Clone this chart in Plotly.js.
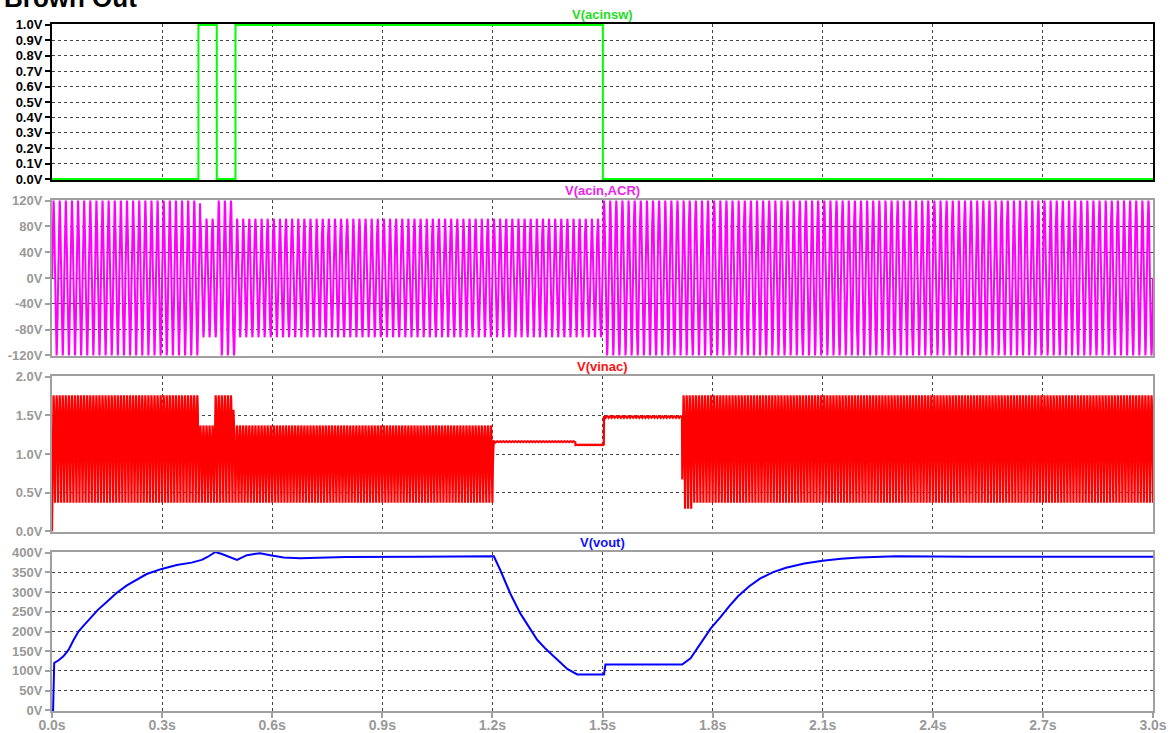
<!DOCTYPE html>
<html><head><meta charset="utf-8">
<script src="https://cdn.plot.ly/plotly-3.0.1.min.js"></script>
<style>html,body{margin:0;padding:0;background:#fff;overflow:hidden}#chart{width:1175px;height:733px}</style>
</head><body><div id="chart"></div>
<script>
// ---- axis ticks ----
const timeTickVals = [0, 0.3, 0.6, 0.9, 1.2, 1.5, 1.8, 2.1, 2.4, 2.7, 3.0];
const timeTickText = ["0.0s","0.3s","0.6s","0.9s","1.2s","1.5s","1.8s","2.1s","2.4s","2.7s","3.0s"];
const acinswTickVals = [0,0.1,0.2,0.3,0.4,0.5,0.6,0.7,0.8,0.9,1.0];
const acinswTickText = ["0.0V","0.1V","0.2V","0.3V","0.4V","0.5V","0.6V","0.7V","0.8V","0.9V","1.0V"];
const acinTickVals = [-120,-80,-40,0,40,80,120];
const acinTickText = ["-120V","-80V","-40V","0V","40V","80V","120V"];
const vinacTickVals = [0,0.5,1.0,1.5,2.0];
const vinacTickText = ["0.0V","0.5V","1.0V","1.5V","2.0V"];
const voutTickVals = [0,50,100,150,200,250,300,350,400];
const voutTickText = ["0V","50V","100V","150V","200V","250V","300V","350V","400V"];

// ---- V(acinsw): switch control ----
const acinswT = [0, 0.399, 0.399, 0.449, 0.449, 0.500, 0.500, 1.501, 1.501, 3.0];
const acinswV = [0, 0, 1, 1, 0, 0, 1, 1, 0, 0];

// ---- V(acin,ACR): 60 Hz line voltage, amplitude per segment ----
const lineFreq = 60;
const acinSegStart = [0, 0.404, 0.454, 0.499, 1.503];
const acinSegAmp   = [120, 92, 120, 92, 120];

// ---- V(vinac): rectified sense voltage, low/high per segment ----
const vinacSegStart = [0.003, 0.402, 0.445, 0.495, 1.202, 1.426, 1.504, 1.717, 1.745];
const vinacSegLow   = [0.37, 0.37, 0.37, 0.37, 1.150, 1.108, 1.470, 0.29, 0.37];
const vinacSegHigh  = [1.76, 1.37, 1.76, 1.37, 1.166, 1.122, 1.490, 1.76, 1.76];

// ---- V(vout): output bus voltage ----
const voutT = [0, 0.003, 0.006, 0.018, 0.031, 0.045, 0.058, 0.072, 0.088, 0.104, 0.125, 0.149, 0.175, 0.204,
  0.230, 0.258, 0.299, 0.340, 0.380, 0.408, 0.425,
  0.445, 0.463, 0.485, 0.504, 0.531, 0.567, 0.595, 0.631, 0.676, 0.8, 1.0, 1.204, 1.222, 1.249, 1.276, 1.300, 1.322,
  1.345, 1.367, 1.387, 1.404, 1.431, 1.504, 1.508, 1.717, 1.740, 1.767, 1.795, 1.822, 1.845, 1.870, 1.900, 1.930,
  1.965, 2.000, 2.050, 2.100, 2.150, 2.200, 2.300, 2.5, 2.8, 3.0];
const voutV = [0, 0, 120, 127, 137, 153, 177, 200, 217, 233, 255, 275, 297, 317,
  332, 346, 359, 369, 375, 382, 390,
  402, 397, 388, 382, 394, 399, 394, 388, 386, 389, 390, 391, 355, 296, 246, 210, 179,
  156, 137, 119, 105, 91, 91, 116, 116, 132, 170, 208, 237, 264, 290, 315, 335,
  351, 362, 373, 380, 385, 388, 391, 390, 390, 390];

// ---- build dense waveforms from the segment values ----
const dt = 1 / (lineFreq * 24);
function segIndex(starts, t) {
  let k = -1;
  for (let i = 0; i < starts.length; i++) if (t >= starts[i]) k = i;
  return k;
}
const acinT = [], acinV = [], vinacT = [0], vinacV = [0];
for (let t = 0; t <= 3.0 + 1e-9; t += dt) {
  const ph = 2 * Math.PI * lineFreq * t;
  const a = segIndex(acinSegStart, t);
  acinT.push(t); acinV.push(acinSegAmp[a] * Math.sin(ph));
  const b = segIndex(vinacSegStart, t);
  if (b >= 0) {
    vinacT.push(t);
    vinacV.push(vinacSegLow[b] + (vinacSegHigh[b] - vinacSegLow[b]) * Math.abs(Math.sin(ph)));
  }
}

const H = 687;
const dom4 = [0, 159 / H], dom3 = [179 / H, 335 / H], dom2 = [355 / H, 511 / H], dom1 = [531 / H, 1];

const gray = '#a0a0a0';
const FAM = 'Arial, Liberation Sans, sans-serif';
const tickFontGray = {family: FAM, size: 13, color: '#999999', weight: 'bold'};
const tickFontBlack = {family: FAM, size: 13, color: '#000000', weight: 'bold'};
const gridStyle = {showgrid: true, gridcolor: '#444444', griddash: '3px,3px', gridwidth: 1};

function xax(anchor, showLabels, lineColor) {
  const ax = Object.assign({
    range: [0, 3], tickvals: timeTickVals, ticktext: timeTickText, anchor: anchor,
    showticklabels: showLabels, ticks: showLabels ? 'outside' : '', ticklen: 5, tickcolor: gray, tickwidth: 2,
    tickfont: Object.assign({}, tickFontGray, {size: 14}), ticklabelstandoff: -5,
    showline: true, linecolor: lineColor, linewidth: 2, mirror: true, zeroline: false,
    layer: 'below traces', fixedrange: true
  }, gridStyle);
  if (anchor !== 'y4') ax.matches = 'x4';
  return ax;
}
function yax(domain, range, vals, text, font, lineColor) {
  return Object.assign({
    domain: domain, range: range, tickvals: vals, ticktext: text, tickfont: font,
    ticks: 'outside', ticklen: 5, tickcolor: lineColor, tickwidth: 2,
    showline: true, linecolor: lineColor, linewidth: 2, mirror: true, zeroline: false,
    layer: 'below traces', fixedrange: true
  }, gridStyle);
}

const traces = [
  {x: acinswT, y: acinswV, xaxis: 'x', yaxis: 'y', mode: 'lines', line: {color: '#00ff00', width: 2}, hoverinfo: 'skip'},
  {x: acinT, y: acinV, xaxis: 'x2', yaxis: 'y2', mode: 'lines', line: {color: '#ff00ff', width: 2}, hoverinfo: 'skip'},
  {x: vinacT, y: vinacV, xaxis: 'x3', yaxis: 'y3', mode: 'lines', line: {color: '#ff0000', width: 2.2}, hoverinfo: 'skip'},
  {x: voutT, y: voutV, xaxis: 'x4', yaxis: 'y4', mode: 'lines', line: {color: '#0000ff', width: 2}, hoverinfo: 'skip'}
];

const titleFont = (c) => ({family: FAM, size: 13, color: c, weight: 'bold'});
function panelTitle(text, top, color) {
  return {text: text, xref: 'paper', yref: 'paper', x: 0.5, y: top, xanchor: 'center', yanchor: 'bottom',
    yshift: 0, showarrow: false, font: titleFont(color)};
}

const layout = {
  width: 1175, height: 733,
  margin: {l: 52, r: 22, t: 24, b: 22, pad: 0},
  paper_bgcolor: '#ffffff', plot_bgcolor: '#ffffff',
  showlegend: false,
  xaxis: xax('y', false, '#000000'),
  xaxis2: xax('y2', false, gray),
  xaxis3: xax('y3', false, gray),
  xaxis4: xax('y4', true, gray),
  yaxis: yax(dom1, [-0.006, 1.006], acinswTickVals, acinswTickText, tickFontBlack, '#000000'),
  yaxis2: yax(dom2, [-121, 121], acinTickVals, acinTickText, tickFontGray, gray),
  yaxis3: yax(dom3, [-0.01, 2.01], vinacTickVals, vinacTickText, tickFontGray, gray),
  yaxis4: yax(dom4, [-2, 402], voutTickVals, voutTickText, tickFontGray, gray),
  annotations: [
    panelTitle('V(acinsw)', dom1[1], '#22dd22'),
    panelTitle('V(acin,ACR)', dom2[1], '#ee22ee'),
    panelTitle('V(vinac)', dom3[1], '#ff1111'),
    panelTitle('V(vout)', dom4[1], '#1111ff'),
    {text: 'Brown Out', xref: 'paper', yref: 'paper', x: -0.045, y: 1.0124, xanchor: 'left', yanchor: 'bottom',
      showarrow: false, font: {family: FAM, size: 26, color: '#000000', weight: 'bold'}}
  ]
};

Plotly.newPlot('chart', traces, layout, {displayModeBar: false, staticPlot: true});
</script>
</body></html>
